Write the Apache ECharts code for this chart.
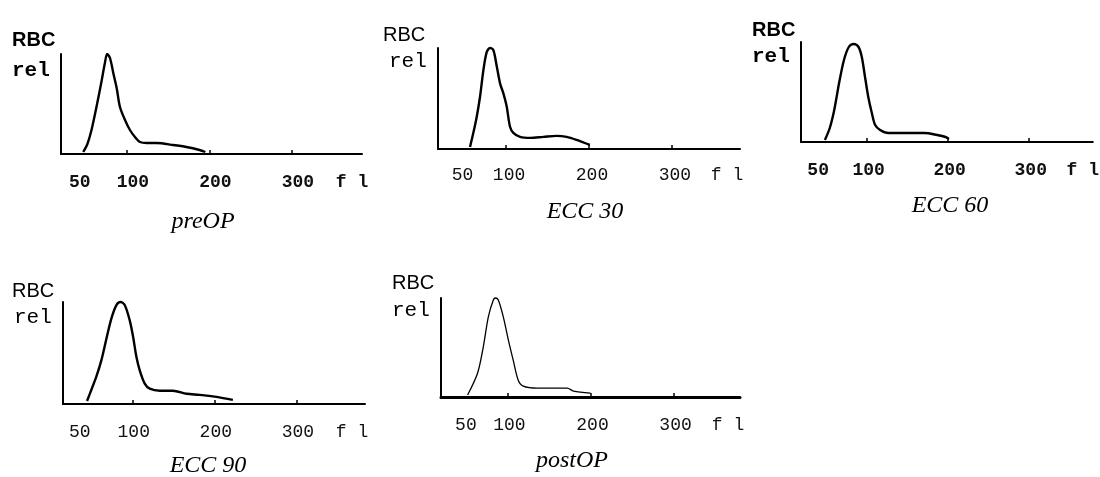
<!DOCTYPE html>
<html>
<head>
<meta charset="utf-8">
<script src="https://cdn.jsdelivr.net/npm/echarts@6/dist/echarts.min.js"></script>
<style>html,body{margin:0;padding:0;background:#fff;}#c{width:1100px;height:477px;}</style>
</head>
<body>
<div id="c"></div>
<script>
// ---- data (cell volume in fl, relative RBC count) ----
const xTickValues = [100, 200, 300];
const xLabelTexts = ['50', '100', '200', '300'];
const unitLabel = 'f l';
const yNameTop = 'RBC';
const yNameBottom = 'rel';
const panelTitles = ['preOP', 'ECC 30', 'ECC 60', 'ECC 90', 'postOP'];

const preOP = [[47,2],[52,10],[57,24],[63,47],[69,72],[73,90],[76,100],[79.4,96],[83.4,81],[87.5,66],[91.5,47],[97.6,34],[103.6,24],[109.7,17],[115.8,12],[124,11],[136,11],[156,9],[172,7],[188,4],[195,2]];
const ecc30 = [[56.6,2],[60.6,16],[64.7,32],[68.7,52],[72.7,78],[76.7,96],[80.7,100],[84.7,98],[88.8,82],[92.8,65],[96.8,55],[100.8,42],[104.8,22],[108.8,16],[116.9,12],[129,11],[145,12],[161,13],[173,12],[185,9],[201,4]];
const ecc60 = [[48.5,2],[54.5,14],[60,32],[66,59],[72,82],[78,95],[84,98],[90,95],[94,85],[98,65],[102,45],[106.4,29],[110.5,17],[116.6,12],[126.7,9],[146.9,9],[171,9],[187,7],[197.3,5],[201.5,3]];
const ecc90 = [[44.3,3],[49.6,14],[55.7,27],[61.8,43],[67.9,64],[74,84],[80.1,97],[85,100],[90.2,97],[96.3,82],[100.4,66],[104.5,46],[108.5,33],[114.6,20],[120.7,15],[133,13],[149,13],[165.5,10],[181.7,9],[202,7],[222,4]];
const postOP = [[52,2],[64,24],[71,51],[77,81],[83,98],[85.5,100],[89,98],[95,81],[101,58],[107,37],[113,17],[119,11],[136,9],[160,9],[172,9],[179.5,6],[200,4]];

const seriesData = [preOP, ecc30, ecc60, ecc90, postOP];

// ---- layout (positions / styles only) ----
const layouts = [
  {left:61,  top:54,  width:301, height:100, min:20, max:385, bold:true,  lw:2.4, xw:2, margin:19, s50:-6,  sRest:6, unitGap:-10,
   rbc:[12,40],  rel:[12,71],  title:[203,222]},
  {left:438, top:48,  width:302, height:101, min:18, max:382, bold:false, lw:2.4, xw:2, margin:17, s50:-2,  sRest:3, unitGap:-13,
   rbc:[383,35], rel:[389,61], title:[585,212]},
  {left:801, top:42,  width:297, height:100, min:19, max:379, bold:true,  lw:2.4, xw:2, margin:19, s50:-8,  sRest:2, unitGap:-10,
   rbc:[752,30], rel:[752,57], title:[950,206]},
  {left:63,  top:302, width:302, height:102, min:15, max:383, bold:false, lw:2.4, xw:2, margin:19, s50:-12, sRest:1, unitGap:-13,
   rbc:[12,291], rel:[14,317], title:[208,466]},
  {left:441, top:298, width:299, height:99,  min:20, max:380, bold:false, lw:1.3, xw:3, margin:19, s50:0,   sRest:2, unitGap:-12,
   rbc:[392,283],rel:[392,310],title:[572,461]}
];

const monoFont = '"Liberation Mono", "DejaVu Sans Mono", monospace';
const grids = [], xAxes = [], yAxes = [], series = [], graphics = [];

layouts.forEach(function (L, i) {
  const fw = L.bold ? 'bold' : 'normal';
  grids.push({left: L.left, top: L.top, width: L.width, height: L.height, containLabel: false});
  const labelValues = xLabelTexts.map(Number);
  const richBase = {fontFamily: monoFont, fontSize: 18, fontWeight: fw, color: '#111'};
  xAxes.push({
    type: 'value', gridIndex: i, min: L.min, max: L.max,
    axisLine: {show: true, onZero: false, lineStyle: {color: '#000', width: L.xw}},
    axisTick: {show: true, inside: true, length: 4, customValues: xTickValues, lineStyle: {color: '#000', width: 1.5}},
    splitLine: {show: false},
    axisLabel: {
      show: true, customValues: labelValues, margin: L.margin,
      formatter: function (v) {
        const t = xLabelTexts[labelValues.indexOf(v)];
        return (v === labelValues[0] ? '{a|' : '{b|') + t + '}';
      },
      rich: {
        a: Object.assign({}, richBase, {padding: L.s50 < 0 ? [0, -2 * L.s50, 0, 0] : [0, 0, 0, 2 * L.s50]}),
        b: Object.assign({}, richBase, {padding: [0, 0, 0, 2 * L.sRest]})
      }
    },
    name: unitLabel, nameLocation: 'end', nameGap: L.unitGap,
    nameTextStyle: {fontFamily: monoFont, fontSize: 18, fontWeight: fw, color: '#111',
      align: 'center', verticalAlign: 'top', padding: [L.margin, 0, 0, 0]}
  });
  yAxes.push({
    type: 'value', gridIndex: i, min: 0, max: 100,
    axisLine: {show: true, lineStyle: {color: '#000', width: 2}},
    axisTick: {show: false}, axisLabel: {show: false}, splitLine: {show: false}
  });
  series.push({
    type: 'line', xAxisIndex: i, yAxisIndex: i, data: seriesData[i],
    smooth: 0.3, showSymbol: false, clip: false,
    lineStyle: {color: '#000', width: L.lw}
  });
  graphics.push({type: 'text', x: L.rbc[0], y: L.rbc[1], silent: true,
    style: {text: yNameTop, fontFamily: '"Liberation Sans", Arial, sans-serif', fontSize: 20, fontWeight: fw,
      fill: '#000', align: 'left', verticalAlign: 'middle', textAlign: 'left', textVerticalAlign: 'middle'}});
  graphics.push({type: 'text', x: L.rel[0], y: L.rel[1], silent: true,
    style: {text: yNameBottom, fontFamily: monoFont, fontSize: 21, fontWeight: fw,
      fill: '#000', align: 'left', verticalAlign: 'middle', textAlign: 'left', textVerticalAlign: 'middle'}});
  graphics.push({type: 'text', x: L.title[0], y: L.title[1], silent: true,
    style: {text: panelTitles[i], fontFamily: '"Liberation Serif", "Times New Roman", serif', fontSize: 24,
      fontStyle: 'italic', fontWeight: 'normal',
      fill: '#000', align: 'center', verticalAlign: 'middle', textAlign: 'center', textVerticalAlign: 'middle'}});
});

const chart = echarts.init(document.getElementById('c'), null, {renderer: 'canvas'});
chart.setOption({
  backgroundColor: '#fff',
  animation: false,
  grid: grids, xAxis: xAxes, yAxis: yAxes, series: series,
  graphic: {elements: graphics}
});
</script>
</body>
</html>
